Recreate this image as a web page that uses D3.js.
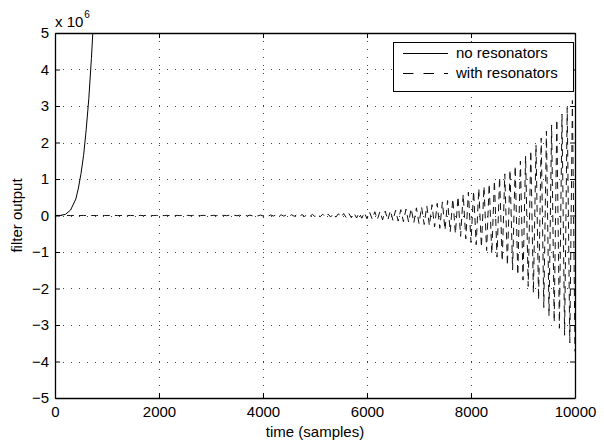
<!DOCTYPE html>
<html>
<head>
<meta charset="utf-8">
<script src="https://cdn.jsdelivr.net/npm/d3@7"></script>
<style>
  html, body { margin: 0; padding: 0; background: #fff; }
  svg text { font-family: "Liberation Sans", Arial, Helvetica, sans-serif; fill: #000; }
</style>
</head>
<body>
<svg id="chart" width="604" height="442"></svg>
<script>
// ---------- data (values in units of 10^6) ----------
const xTicks = [0, 2000, 4000, 6000, 8000, 10000];
const yTicks = [-5, -4, -3, -2, -1, 0, 1, 2, 3, 4, 5];
const seriesNames = ["no resonators", "with resonators"];

// "no resonators": fast-growing output
const noResTime  = [0, 100, 200, 300, 400, 450, 500, 550, 600, 650, 700, 750, 800];
const noResValue = [0, 0.002, 0.03, 0.15, 0.45, 0.75, 1.15, 1.65, 2.35, 3.2, 4.3, 5.6, 7.1];

// "with resonators": oscillation extrema, one every 50 samples (t = 0, 50, ..., 10000)
const withResStep = 50;
const withResValue = [
  // 0 - 450
  0, 0.001, -0.001, 0.001, -0.001, 0.001, -0.001, 0.001, -0.001, 0.001,
  // 500 - 950
  -0.002, 0.002, -0.002, 0.002, -0.002, 0.002, -0.002, 0.002, -0.002, 0.002,
  // 1000 - 1450
  -0.002, 0.002, -0.002, 0.002, -0.002, 0.002, -0.002, 0.002, -0.002, 0.002,
  // 1500 - 1950
  -0.003, 0.003, -0.003, 0.003, -0.003, 0.003, -0.003, 0.003, -0.003, 0.003,
  // 2000 - 2450
  -0.003, 0.003, -0.003, 0.003, -0.003, 0.003, -0.003, 0.003, -0.003, 0.003,
  // 2500 - 2950
  -0.004, 0.004, -0.004, 0.004, -0.004, 0.004, -0.004, 0.004, -0.004, 0.004,
  // 3000 - 3450
  -0.005, 0.005, -0.005, 0.006, -0.006, 0.006, -0.006, 0.007, -0.007, 0.007,
  // 3500 - 3950
  -0.008, 0.008, -0.009, 0.009, -0.010, 0.010, -0.011, 0.011, -0.012, 0.012,
  // 4000 - 4450
  -0.013, 0.013, -0.014, 0.015, -0.015, 0.016, -0.017, 0.018, -0.018, 0.019,
  // 4500 - 4950
  -0.020, 0.021, -0.022, 0.023, -0.024, 0.025, -0.026, 0.027, -0.028, 0.030,
  // 5000 - 5450
  -0.031, 0.033, -0.034, 0.036, -0.038, 0.040, -0.042, 0.044, -0.046, 0.048,
  // 5500 - 5950
  -0.050, 0.053, -0.056, 0.059, -0.062, 0.065, -0.068, 0.072, -0.076, 0.080,
  // 6000 - 6450
  -0.090, 0.094, -0.098, 0.103, -0.107, 0.112, -0.117, 0.122, -0.128, 0.134,
  // 6500 - 6950
  -0.140, 0.146, -0.153, 0.160, -0.168, 0.175, -0.183, 0.192, -0.201, 0.210,
  // 7000 - 7450
  -0.220, 0.233, -0.247, 0.262, -0.278, 0.295, -0.312, 0.331, -0.351, 0.372,
  // 7500 - 7950
  -0.40, 0.41, -0.45, 0.46, -0.50, 0.52, -0.57, 0.58, -0.64, 0.64,
  // 8000 - 8450
  -0.74, 0.67, -0.80, 0.74, -0.87, 0.80, -0.96, 0.87, -1.05, 0.96,
  // 8500 - 8950
  -1.14, 1.05, -1.25, 1.14, -1.37, 1.25, -1.49, 1.36, -1.63, 1.49,
  // 9000 - 9450
  -1.77, 1.63, -1.94, 1.78, -2.12, 1.94, -2.31, 2.12, -2.52, 2.31,
  // 9500 - 9950
  -2.75, 2.48, -2.92, 2.63, -3.09, 2.78, -3.28, 2.96, -3.49, 3.15,
  // 10000
  -3.73
];

// ---------- layout ----------
const svg = d3.select("#chart");
const L = 55, T = 33, W = 520, H = 365;
const x = d3.scaleLinear().domain([0, 10000]).range([L, L + W]);
const y = d3.scaleLinear().domain([-5, 5]).range([T + H, T]);

svg.append("rect").attr("width", 604).attr("height", 442).attr("fill", "#fff");

// grid (dotted)
const grid = svg.append("g").attr("stroke", "#444").attr("stroke-width", 1)
  .attr("stroke-dasharray", "1,7").attr("fill", "none");
xTicks.filter(d => d > 0 && d < 10000).forEach(d => {
  grid.append("line").attr("x1", Math.round(x(d)) + 0.5).attr("x2", Math.round(x(d)) + 0.5)
    .attr("y1", T).attr("y2", T + H);
});
yTicks.filter(d => d > -5 && d < 5).forEach(d => {
  grid.append("line").attr("y1", Math.round(y(d)) + 0.5).attr("y2", Math.round(y(d)) + 0.5)
    .attr("x1", L).attr("x2", L + W);
});

// clip
svg.append("clipPath").attr("id", "clip").append("rect")
  .attr("x", L).attr("y", T).attr("width", W).attr("height", H);

const line = d3.line().x(d => x(d[0])).y(d => y(d[1]));

const noRes = noResTime.map((t, i) => [t, noResValue[i]]);
const withRes = withResValue.map((v, i) => [i * withResStep, v]);

const plot = svg.append("g").attr("clip-path", "url(#clip)");
plot.append("path").datum(noRes).attr("d", line)
  .attr("fill", "none").attr("stroke", "#000").attr("stroke-width", 1);
plot.append("path").datum(withRes).attr("d", line)
  .attr("fill", "none").attr("stroke", "#111").attr("stroke-width", 1)
  .attr("stroke-dasharray", "7,5");

// axes (ticks inside)
const fmt = d3.format("d");
const axB = svg.append("g").attr("transform", `translate(0,${T + H})`)
  .call(d3.axisBottom(x).tickValues(xTicks).tickFormat(fmt).tickSizeInner(-5).tickSizeOuter(0).tickPadding(8));
const axT = svg.append("g").attr("transform", `translate(0,${T})`)
  .call(d3.axisTop(x).tickValues(xTicks).tickFormat("").tickSizeInner(-5).tickSizeOuter(0));
const axL = svg.append("g").attr("transform", `translate(${L},0)`)
  .call(d3.axisLeft(y).tickValues(yTicks).tickFormat(d3.format("d")).tickSizeInner(-5).tickSizeOuter(0).tickPadding(6));
const axR = svg.append("g").attr("transform", `translate(${L + W},0)`)
  .call(d3.axisRight(y).tickValues(yTicks).tickFormat("").tickSizeInner(-5).tickSizeOuter(0));
[axB, axT, axL, axR].forEach(g => {
  g.selectAll("path.domain").attr("stroke", "#000").attr("stroke-width", 1.3);
  g.selectAll(".tick line").attr("stroke", "#000");
  g.selectAll("text").attr("font-size", 15).attr("font-family", "'Liberation Sans', Arial, sans-serif").attr("fill", "#000");
});

// exponent label
const ex = svg.append("text").attr("x", 55).attr("y", 27).attr("font-size", 15);
ex.append("tspan").text("x 10");
ex.append("tspan").attr("font-size", 10).attr("dy", -9).attr("dx", 1).text("6");

// axis titles
svg.append("text").attr("x", L + W / 2).attr("y", 437).attr("text-anchor", "middle")
  .attr("font-size", 15).text("time (samples)");
svg.append("text").attr("transform", `translate(22,${T + H / 2}) rotate(-90)`)
  .attr("text-anchor", "middle").attr("font-size", 15).text("filter output");

// legend
const lg = svg.append("g");
lg.append("rect").attr("x", 393.5).attr("y", 42.5).attr("width", 180).attr("height", 49)
  .attr("fill", "#fff").attr("stroke", "#000").attr("stroke-width", 1);
const rows = [{ y: 53, dash: null }, { y: 73, dash: "10.5,10" }];
rows.forEach((r, i) => {
  const ln = lg.append("line").attr("x1", 403).attr("x2", 448).attr("y1", r.y + 0.5).attr("y2", r.y + 0.5)
    .attr("stroke", "#000").attr("stroke-width", 1);
  if (r.dash) ln.attr("stroke-dasharray", r.dash);
  lg.append("text").attr("x", 456).attr("y", r.y + 5).attr("font-size", 15).text(seriesNames[i]);
});
</script>
</body>
</html>
